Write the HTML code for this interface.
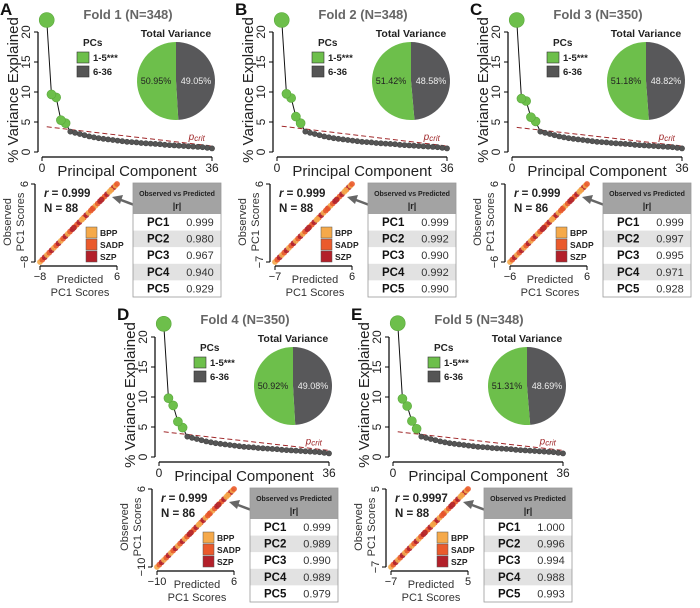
<!DOCTYPE html>
<html><head><meta charset="utf-8">
<style>
html,body{margin:0;padding:0;background:#fff;}
svg{display:block;font-family:"Liberation Sans",Arial,sans-serif;}
</style></head>
<body>
<svg id="fig" width="700" height="608" viewBox="0 0 700 608"></svg>
<script>
const foldLetters = ["A","B","C","D","E"];
const foldTitles = ["Fold 1 (N=348)","Fold 2 (N=348)","Fold 3 (N=350)","Fold 4 (N=350)","Fold 5 (N=348)"];
const pcTop = [
  [22.0,9.6,9.1,5.3,4.8],
  [22.0,9.7,9.0,5.9,4.8],
  [22.0,8.9,8.5,5.8,5.1],
  [22.2,9.8,8.6,5.9,4.9],
  [22.3,9.7,8.5,6.0,4.7]
];
const pcTail = [3.4,3.2,3.0,2.8,2.6,2.45,2.3,2.2,2.1,2.0,1.9,1.8,1.7,1.65,1.6,1.5,1.45,1.4,1.35,1.3,1.2,1.15,1.1,1.05,1.0,0.95,0.9,0.85,0.8,0.7,0.6];
const pcritStart = [4.2,4.3,4.1,4.2,4.2];
const pcritEnd = [1.0,1.0,1.0,1.1,1.1];
const pieGreen = [50.95,51.42,51.18,50.92,51.31];
const pieGrey = [49.05,48.58,48.82,49.08,48.69];
const rText = ["0.999","0.999","0.999","0.999","0.9997"];
const nText = ["88","88","86","86","88"];
const scatMin = [-8,-7,-6,-10,-7];
const scatMax = [6,6,6,6,5];
const predFrac = [0,0.03,0.06,0.09,0.12,0.15,0.18,0.21,0.24,0.27,0.3,0.33,0.36,0.39,0.42,0.45,0.48,0.51,0.54,0.57,0.6,0.63,0.66,0.69,0.72,0.75,0.78,0.81,0.84,0.87,0.9,0.93,0.96,0.98,1.0,0.44,0.55,0.68,0.8,0.92];
const pcLabels = ["PC1","PC2","PC3","PC4","PC5"];
const rVals = [
  ["0.999","0.980","0.967","0.940","0.929"],
  ["0.999","0.992","0.990","0.992","0.990"],
  ["0.999","0.997","0.995","0.971","0.928"],
  ["0.999","0.989","0.990","0.989","0.979"],
  ["1.000","0.996","0.994","0.988","0.993"]
];
const offsets = [[0,0],[235,0],[470,0],[117,305],[351,305]];
const groupColors = ["#f5a94a","#ea5a2c","#b3202a"];

const NS="http://www.w3.org/2000/svg";
const fig=document.getElementById('fig');
function el(tag,attrs,parent,text){
  const e=document.createElementNS(NS,tag);
  for(const k in attrs)e.setAttribute(k,attrs[k]);
  if(text!==undefined)e.textContent=text;
  (parent||fig).appendChild(e);return e;
}

for(let f=0;f<5;f++){
  const [ox,oy]=offsets[f];
  const g=el('g',{transform:`translate(${ox},${oy})`});
  
  
  let t=el('text',{x:0,y:15,'font-size':17,'font-weight':'bold',fill:'#111'},g,foldLetters[f]);
  
  t=el('text',{x:128,y:19,'font-size':13,'font-weight':'bold',fill:'#666','text-anchor':'middle'},g,foldTitles[f]);
  

  const sx=i=>42+(i)*(170/36);
  const sy=v=>152-v*6;
  const ax=el('g',{},g);
  
  el('line',{x1:38,y1:sy(20),x2:38,y2:sy(0),stroke:'#000','stroke-width':1.2},ax);
  el('line',{x1:sx(0),y1:157,x2:sx(36),y2:157,stroke:'#000','stroke-width':1.2},ax);
  [0,5,10,15,20].forEach(v=>{
    el('line',{x1:34,y1:sy(v),x2:38,y2:sy(v),stroke:'#000'},ax);
    const tl=el('text',{x:30,y:sy(v),'font-size':12,fill:'#222','text-anchor':'middle',transform:`rotate(-90 30 ${sy(v)})`},ax,String(v));
    
  });
  [0,36].forEach(v=>{
    el('line',{x1:sx(v),y1:157,x2:sx(v),y2:161,stroke:'#000'},ax);
    const tl=el('text',{x:sx(v),y:172,'font-size':12,fill:'#222','text-anchor':'middle'},ax,String(v));
    
  });
  t=el('text',{x:127,y:176,'font-size':15,fill:'#222','text-anchor':'middle'},g,'Principal Component');
  
  t=el('text',{x:18,y:90,'font-size':15,fill:'#222','text-anchor':'middle',transform:'rotate(-90 18 90)'},g,'% Variance Explained');
  

  let ln=el('line',{x1:sx(1),y1:sy(pcritStart[f]),x2:sx(36),y2:sy(pcritEnd[f]),stroke:'#a0282a','stroke-width':1,'stroke-dasharray':'5,3'},g);
  
  t=el('text',{x:sx(34.5),y:sy(pcritEnd[f])-6,'font-size':10,'font-style':'italic',fill:'#a0282a','text-anchor':'end'},g);
  t.innerHTML='p<tspan font-size="8" dy="1">crit</tspan>';
  

  const vals=pcTop[f].concat(pcTail);
  const pts=vals.map((v,i)=>sx(i+1)+','+sy(v)).join(' ');
  ln=el('polyline',{points:pts,fill:'none',stroke:'#111','stroke-width':1},g);
  
  for(let i=vals.length-1;i>=0;i--){
    const r=i===0?7.5:(i<5?4.5:2.6);
    const c=el('circle',{cx:sx(i+1),cy:sy(vals[i]),r:r,fill:i<5?'#6dbf4b':'#555',stroke:i<5?'#5aa83c':'#444','stroke-width':0.6},g);
    
  }

  const lg=el('g',{},g);
  
  el('text',{x:83,y:46,'font-size':10,'font-weight':'bold',fill:'#222'},lg,'PCs');
  el('rect',{x:77,y:52,width:12,height:11,fill:'#6dbf4b',stroke:'#333','stroke-width':0.6},lg);
  el('rect',{x:77,y:66,width:12,height:11,fill:'#555',stroke:'#333','stroke-width':0.6},lg);
  el('text',{x:93,y:61,'font-size':9.5,'font-weight':'bold',fill:'#222'},lg,'1-5***');
  el('text',{x:93,y:75,'font-size':9.5,'font-weight':'bold',fill:'#222'},lg,'6-36');

  const cx=176,cy=81,R=39;
  t=el('text',{x:cx,y:37,'font-size':10.5,'font-weight':'bold',fill:'#222','text-anchor':'middle'},g,'Total Variance');
  
  const total=pieGreen[f]+pieGrey[f];
  const ang=2*Math.PI*pieGrey[f]/total;
  const ex=cx+R*Math.sin(ang),ey=cy-R*Math.cos(ang);
  let p=el('path',{d:`M${cx},${cy} L${cx},${cy-R} A${R},${R} 0 ${ang>Math.PI?1:0} 1 ${ex},${ey} Z`,fill:'#58585a'},g);
  
  p=el('path',{d:`M${cx},${cy} L${ex},${ey} A${R},${R} 0 ${ang>Math.PI?0:1} 1 ${cx},${cy-R} Z`,fill:'#6dbf4b'},g);
  
  t=el('text',{x:cx-20,y:cy+3,'font-size':9,fill:'#222','text-anchor':'middle'},g,pieGreen[f].toFixed(2)+'%');
  
  t=el('text',{x:cx+20,y:cy+3,'font-size':9,fill:'#eee','text-anchor':'middle'},g,pieGrey[f].toFixed(2)+'%');
  

  const mn=scatMin[f],mx=scatMax[f];
  const px=v=>40+(v-mn)/(mx-mn)*77;
  const py=v=>262-(v-mn)/(mx-mn)*78;
  const sa=el('g',{},g);
  
  el('line',{x1:35,y1:py(mx),x2:35,y2:py(mn),stroke:'#000','stroke-width':1.2},sa);
  el('line',{x1:px(mn),y1:266,x2:px(mx),y2:266,stroke:'#000','stroke-width':1.2},sa);
  [mn,mx].forEach(v=>{
    el('line',{x1:31,y1:py(v),x2:35,y2:py(v),stroke:'#000'},sa);
    el('text',{x:28,y:py(v),'font-size':11,fill:'#222','text-anchor':'middle',transform:`rotate(-90 28 ${py(v)})`},sa,String(v).replace('-','\u2212'));
    el('line',{x1:px(v),y1:266,x2:px(v),y2:270,stroke:'#000'},sa);
    el('text',{x:px(v),y:280,'font-size':11,fill:'#222','text-anchor':'middle'},sa,String(v).replace('-','\u2212'));
  });
  el('text',{x:11,y:222,'font-size':11,fill:'#333','text-anchor':'middle',transform:'rotate(-90 11 222)'},sa,'Observed');
  el('text',{x:24,y:222,'font-size':11,fill:'#333','text-anchor':'middle',transform:'rotate(-90 24 222)'},sa,'PC1 Scores');
  el('text',{x:80,y:283,'font-size':11,fill:'#333','text-anchor':'middle'},sa,'Predicted');
  el('text',{x:80,y:296,'font-size':11,fill:'#333','text-anchor':'middle'},sa,'PC1 Scores');
  ln=el('line',{x1:px(mn),y1:py(mn),x2:px(mx),y2:py(mx),stroke:'#2c3e8c','stroke-width':1.2},g);
  
  predFrac.forEach((fr,i)=>{
    const v=mn+fr*(mx-mn);
    const c=el('circle',{cx:px(v),cy:py(v),r:2.9,fill:groupColors[(i*7)%3],opacity:0.9},g);
    
  });
  t=el('text',{x:44,y:197,'font-size':11.5,'font-weight':'bold',fill:'#222'},g);
  t.innerHTML='<tspan font-style="italic">r</tspan> = '+rText[f];
  
  t=el('text',{x:44,y:212,'font-size':11.5,'font-weight':'bold',fill:'#222'},g,'N = '+nText[f]);
  
  const sl=el('g',{},g);
  
  ["BPP","SADP","SZP"].forEach((nm,i)=>{
    el('rect',{x:86,y:227+i*12,width:11,height:11,fill:groupColors[i],stroke:'#555','stroke-width':0.5},sl);
    el('text',{x:100,y:236+i*12,'font-size':8.5,'font-weight':'bold',fill:'#222'},sl,nm);
  });

  const ar=el('g',{},g);
  
  el('line',{x1:137,y1:206,x2:121,y2:200,stroke:'#666','stroke-width':2.5},ar);
  el('polygon',{points:'112,197 123,195 120,204',fill:'#666'},ar);

  const tb=el('g',{},g);
  
  el('rect',{x:133,y:183,width:88,height:31,fill:'#a3a3a3'},tb);
  el('text',{x:177,y:196,'font-size':7,'font-weight':'bold',fill:'#222','text-anchor':'middle'},tb,'Observed vs Predicted');
  el('text',{x:177,y:209,'font-size':9,'font-weight':'bold',fill:'#222','text-anchor':'middle'},tb,'|r|');
  for(let i=0;i<5;i++){
    const y0=214+i*16.6;
    el('rect',{x:133,y:y0,width:88,height:16.6,fill:i%2?'#e2e2e2':'#fff'},tb);
    el('text',{x:147,y:y0+12,'font-size':11.5,'font-weight':'bold',fill:'#111'},tb,pcLabels[i]);
    el('text',{x:200,y:y0+12,'font-size':11,fill:'#333','text-anchor':'middle'},tb,rVals[f][i]);
  }
  el('rect',{x:133,y:183,width:88,height:114,fill:'none',stroke:'#999','stroke-width':0.8},tb);
}
</script>
</body></html>
